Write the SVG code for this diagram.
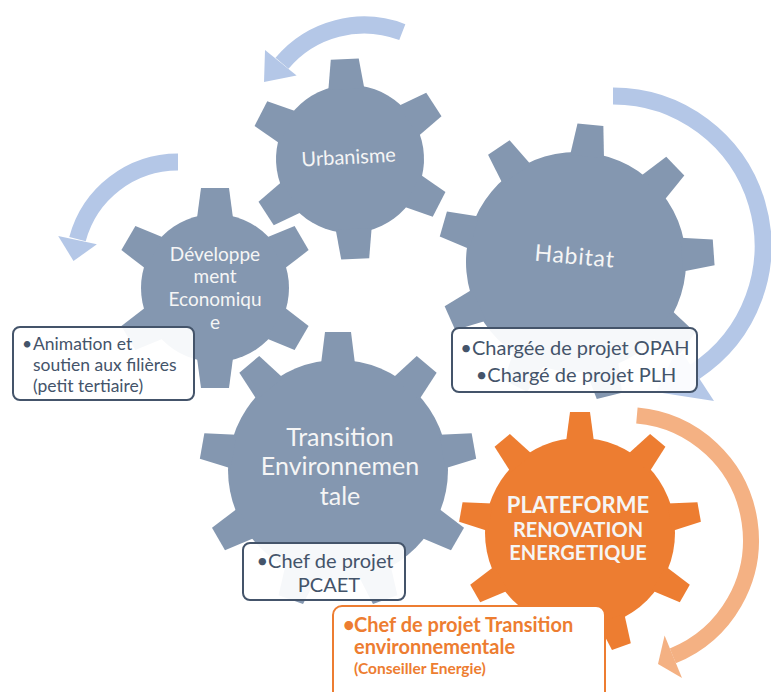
<svg xmlns="http://www.w3.org/2000/svg" width="771" height="692" viewBox="0 0 771 692">
<style>
.halo{fill:#8497B0;stroke:#fff;stroke-width:3}
.gear{fill:#8497B0}
.ohalo{fill:#ED7D31;stroke:#fff;stroke-width:3}
.og{fill:#ED7D31}
.gl{font-family:Lato,"Open Sans",sans-serif;fill:#F5F5F5;text-anchor:middle}
.box{fill:#fff;fill-opacity:0.93;stroke:#44546A;stroke-width:2}
.obox{fill:#fff;stroke:#ED7D31;stroke-width:2}
.bt{font-family:Lato,"Open Sans",sans-serif;fill:#44546A}
.ct{text-anchor:middle}
.ot{font-family:Lato,"Open Sans",sans-serif;fill:#ED7D31;font-weight:bold}
.ba{fill:none;stroke:#B4C7E7;stroke-width:17}
.bh{fill:#B4C7E7}
.oa{fill:none;stroke:#F4B183;stroke-width:16}
.oh{fill:#F4B183}
</style>
<defs>
<g id="g6"><circle r="74"/><polygon id="t6" points="-18,-70 18,-70 14,-100 -14,-100"/><use href="#t6" transform="rotate(60)"/><use href="#t6" transform="rotate(120)"/><use href="#t6" transform="rotate(180)"/><use href="#t6" transform="rotate(240)"/><use href="#t6" transform="rotate(300)"/></g>
<g id="g9"><circle r="110"/><polygon id="t9" points="-17,-106 17,-106 13,-138 -13,-138"/><use href="#t9" transform="rotate(40)"/><use href="#t9" transform="rotate(80)"/><use href="#t9" transform="rotate(120)"/><use href="#t9" transform="rotate(160)"/><use href="#t9" transform="rotate(200)"/><use href="#t9" transform="rotate(240)"/><use href="#t9" transform="rotate(280)"/><use href="#t9" transform="rotate(320)"/></g>
<g id="g9s"><circle r="95"/><polygon id="t9s" points="-14,-91 14,-91 10,-121 -10,-121"/><use href="#t9s" transform="rotate(40)"/><use href="#t9s" transform="rotate(80)"/><use href="#t9s" transform="rotate(120)"/><use href="#t9s" transform="rotate(160)"/><use href="#t9s" transform="rotate(200)"/><use href="#t9s" transform="rotate(240)"/><use href="#t9s" transform="rotate(280)"/><use href="#t9s" transform="rotate(320)"/></g>
</defs>
<g id="connectors">
<path class="ba" d="M402.3,32.1 A107 107 0 0 0 282,63.2"/>
<polygon class="bh" points="265,50 296.6,75.4 264,82"/>
<path class="ba" d="M178,162 A104 104 0 0 0 77.5,239.1"/>
<polygon class="bh" points="58.2,236 96.9,244.3 73.5,261"/>
<path class="ba" d="M613,96 A150 150 0 0 1 694.7,371.8"/>
<polygon class="bh" points="714,401 678.4,346.6 656,392"/>
<path class="oa" d="M636.9,415.5 A125 125 0 0 1 672.8,655.9"/>
<polygon class="oh" points="682,678 664.6,635.5 658,664"/>
</g>
<g id="urbanisme">
<use href="#g6" class="halo" transform="translate(350,159) rotate(-3)"/>
<use href="#g6" class="gear" transform="translate(350,159) rotate(-3)"/>
<text class="gl" font-size="20" transform="translate(349,164) rotate(-3)">Urbanisme</text>
</g>
<g id="developpement">
<use href="#g6" class="halo" transform="translate(215,288)"/>
<use href="#g6" class="gear" transform="translate(215,288)"/>
<text class="gl" font-size="19"><tspan x="215" y="261">Développe</tspan><tspan x="215" y="283">ment</tspan><tspan x="215" y="306">Economiqu</tspan><tspan x="215" y="329">e</tspan></text>
<rect class="box" x="13" y="327" width="181" height="73" rx="7"/>
<text class="bt" font-size="17.5" x="22" y="350">•</text>
<text class="bt" font-size="17.5"><tspan x="33" y="350">Animation et</tspan><tspan x="33" y="371">soutien aux filières</tspan><tspan x="33" y="392">(petit tertiaire)</tspan></text>
</g>
<g id="habitat">
<use href="#g9" class="halo" transform="translate(576,262) rotate(6)"/>
<use href="#g9" class="gear" transform="translate(576,262) rotate(6)"/>
<text class="gl" font-size="23" letter-spacing="0.8" transform="translate(574,264) rotate(5)">Habitat</text>
<rect class="box" x="452" y="328" width="245" height="64" rx="7"/>
<text class="bt ct" font-size="20"><tspan x="575" y="355">•Chargée de projet OPAH</tspan><tspan x="576" y="382">•Chargé de projet PLH</tspan></text>
</g>
<g id="transition">
<use href="#g9" class="halo" transform="translate(338,470)"/>
<use href="#g9" class="gear" transform="translate(338,470)"/>
<text class="gl" font-size="25"><tspan x="340" y="446">Transition</tspan><tspan x="340" y="475">Environnemen</tspan><tspan x="340" y="505">tale</tspan></text>
<rect class="box" x="243" y="543" width="162" height="57" rx="7"/>
<text class="bt ct" font-size="20"><tspan x="325" y="568">•Chef de projet</tspan><tspan x="329" y="592">PCAET</tspan></text>
</g>
<g id="plateforme">
<use href="#g9s" class="ohalo" transform="translate(580,533)"/>
<use href="#g9s" class="og" transform="translate(580,533)"/>
<text class="gl" font-weight="bold"><tspan x="578" y="513" font-size="22">PLATEFORME</tspan><tspan x="578" y="537" font-size="20">RENOVATION</tspan><tspan x="578" y="560" font-size="20">ENERGETIQUE</tspan></text>
<rect class="obox" x="333" y="606" width="272" height="100" rx="9"/>
<text class="ot" font-size="20" x="343" y="632">•</text>
<text class="ot" font-size="20"><tspan x="354" y="632">Chef de projet Transition</tspan><tspan x="354" y="654">environnementale</tspan><tspan x="354" y="674" font-size="15.5">(Conseiller Energie)</tspan></text>
</g>
</svg>
